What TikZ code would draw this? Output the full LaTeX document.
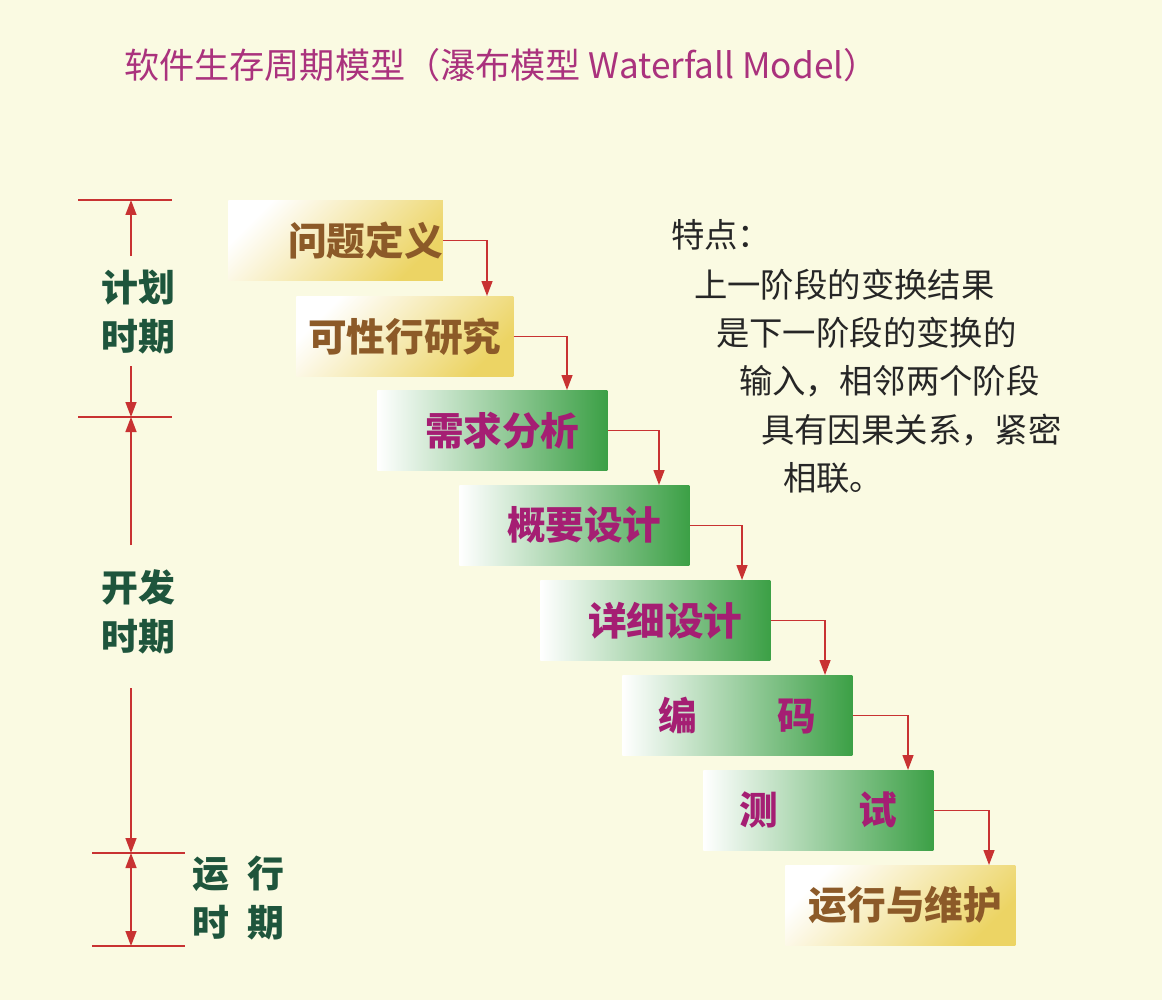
\documentclass[tikz,border=0pt]{standalone}
\usepackage{fontspec}
\setmainfont{Noto Sans CJK SC}
\usetikzlibrary{arrows.meta,calc}
\definecolor{bgcream}{RGB}{250,250,226}
\definecolor{dimred}{RGB}{200,50,50}
\definecolor{ttlmag}{RGB}{170,50,125}
\definecolor{boxbrown}{RGB}{140,90,40}
\definecolor{boxmag}{RGB}{165,30,115}
\definecolor{pergreen}{RGB}{30,85,60}
\definecolor{ylw}{RGB}{236,212,100}
\definecolor{grn}{RGB}{60,160,70}

\begin{document}
\begin{tikzpicture}[x=0.02cm,y=-0.02cm,
    ybox/.style={font=\fontsize{22}{26}\selectfont\bfseries,
      text=boxbrown, left color=white, right color=ylw, shading angle=45,
      minimum height=1.6cm, anchor=north west, inner sep=0pt},
    gbox/.style={ybox, text=boxmag, left color=white, right color=grn},
    ar/.style={-{Triangle[length=3mm,width=2.2mm]}, dimred, line width=0.8pt},
    tick/.style={dimred, line width=0.8pt},
    per/.style={font=\fontsize{21}{28}\selectfont\bfseries, text=pergreen, align=center}
  ]
    \fill[bgcream] (0,0) rectangle (1162,1000);

    % title
    \node[anchor=west, text=ttlmag, font=\fontsize{20}{24}\selectfont] (title) at (118,65)
      {软件生存周期模型（瀑布模型 Waterfall Model）};

    % stages
    \node[ybox, minimum width=4.08cm] (def) at (228,200) {\hspace*{1.2cm}问题定义};
    \node[ybox, minimum width=4.34cm] (feas) at (296,296) {可性行研究};
    \node[gbox, minimum width=4.6cm] (req) at (377,390) {\hspace*{0.4cm}需求分析};
    \node[gbox, minimum width=4.6cm] (arch) at (459,485) {\hspace*{0.4cm}概要设计};
    \node[gbox, minimum width=4.6cm] (det) at (540,580) {\hspace*{0.4cm}详细设计};
    \node[gbox, minimum width=4.6cm] (code) at (622,675) {编\hspace{1.6cm}码};
    \node[gbox, minimum width=4.6cm] (test) at (703,770) {测\hspace{1.6cm}试};
    \node[ybox, minimum width=4.6cm] (maint) at (785,865) {\hspace*{0.2cm}运行与维护};

    % arrows between stages
    \draw[ar] (def.east) -| ($(feas.north west)+(191,0)$);
    \draw[ar] (feas.east) -| ($(req.north west)+(190,0)$);
    \draw[ar] (req.east) -| ($(arch.north west)+(200,0)$);
    \draw[ar] (arch.east) -| ($(det.north west)+(202,0)$);
    \draw[ar] (det.east) -| ($(code.north west)+(203,0)$);
    \draw[ar] (code.east) -| ($(test.north west)+(205,0)$);
    \draw[ar] (test.east) -| ($(maint.north west)+(204,0)$);

    % periods
    \coordinate (p0) at (131,200);
    \coordinate (p1) at (131,417);
    \coordinate (p2) at (131,853);
    \coordinate (p3) at (131,946);
    \draw[tick] (78,200) -- (172,200);
    \draw[tick] (78,417) -- (172,417);
    \draw[tick] (92,853) -- (185,853);
    \draw[tick] (92,946) -- (185,946);

    \node[per] (plan) at (138,312) {计划\\时期};
    \node[per] (dev) at (138,612) {开发\\时期};
    \node[per, anchor=west] (run) at (186,898) {运\hspace{0.5em}行\\时\hspace{0.5em}期};

    \draw[ar] (131,256) -- (p0);
    \draw[ar] (131,366) -- (p1);
    \draw[ar] (131,545) -- (p1);
    \draw[ar] (131,688) -- (p2);
    \draw[ar, {Triangle[length=3mm,width=2.2mm]}-{Triangle[length=3mm,width=2.2mm]}] (p2) -- (p3);

    % features
    \begin{scope}[every node/.style={anchor=west, font=\fontsize{19}{22}\selectfont, text=black!85}]
      \node (f0) at (665,235) {特点：};
      \node (f1) at (688,285) {上一阶段的变换结果};
      \node (f2) at (710,333) {是下一阶段的变换的};
      \node (f3) at (733,381) {输入，相邻两个阶段};
      \node (f4) at (755,430) {具有因果关系，紧密};
      \node (f5) at (777,478) {相联。};
    \end{scope}
\end{tikzpicture}
\end{document}
